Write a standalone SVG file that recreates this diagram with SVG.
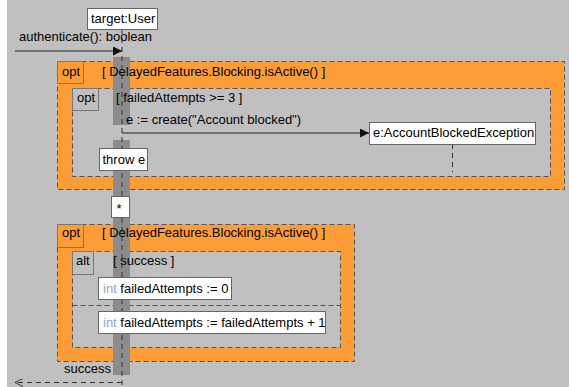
<svg xmlns="http://www.w3.org/2000/svg" width="569" height="387" viewBox="0 0 569 387">
<style>
text{font-family:"Liberation Sans",Arial,Helvetica,sans-serif;font-size:13px;fill:#000}
.frag{stroke:#555;stroke-width:1;stroke-dasharray:5,3}
.orange{fill:#fd9d38}
.grey{fill:#c0c0c0}
.tab{stroke:#777;stroke-width:1}
.box{fill:#fff;stroke:#666;stroke-width:1}
.bar{fill:#8c8c8c}
.life{stroke:#333;stroke-width:1;stroke-dasharray:5,4;fill:none}
.msg{stroke:#222;stroke-width:1;fill:none}
.ret{stroke:#333;stroke-width:1;stroke-dasharray:5,4;fill:none}
.kw{fill:#8aa4cc}
</style>
<defs>
<marker id="filled" viewBox="0 0 10 10" refX="10" refY="5" markerWidth="9" markerHeight="9" markerUnits="userSpaceOnUse" orient="auto">
<path d="M0,0 L10,5 L0,10 Z" fill="#111"/>
</marker>
<marker id="open" viewBox="0 0 10 10" refX="10" refY="5" markerWidth="8" markerHeight="8" markerUnits="userSpaceOnUse" orient="auto">
<path d="M0,0 L10,5 L0,10" fill="none" stroke="#333" stroke-width="1.2"/>
</marker>
</defs>
<rect x="0" y="0" width="569" height="387" fill="#ffffff"/>
<rect x="7" y="0" width="562" height="387" fill="#c0c0c0"/>

<g id="frag-opt1">
<rect class="frag orange" x="57.5" y="61.5" width="507" height="128"/>
<rect class="tab orange" x="57.5" y="61.5" width="26" height="22"/>
<text x="62" y="76">opt</text>
</g>
<g id="frag-opt1-inner">
<rect class="frag grey" x="72.5" y="88.5" width="478" height="88"/>
<rect class="tab grey" x="72.5" y="88.5" width="26" height="22"/>
<text x="77" y="102">opt</text>
</g>
<g id="frag-opt2">
<rect class="frag orange" x="57.5" y="224.5" width="297" height="137"/>
<rect class="tab orange" x="57.5" y="224.5" width="26" height="23"/>
<text x="62" y="237">opt</text>
</g>
<g id="frag-alt">
<rect class="frag grey" x="72.5" y="251.5" width="268" height="96"/>
<rect class="tab grey" x="72.5" y="251.5" width="21" height="23"/>
<text x="76" y="265">alt</text>
<line class="frag" x1="72.5" y1="305.5" x2="340.5" y2="305.5"/>
</g>

<g id="activation">
<rect class="bar" x="113" y="57" width="17" height="68"/>
<rect class="bar" x="113" y="140" width="17" height="235"/>
</g>

<g id="lifeline-user">
<line class="life" x1="122" y1="29" x2="122" y2="387"/>
</g>
<g id="lifeline-exception">
<line class="life" x1="452.5" y1="144" x2="452.5" y2="172"/>
</g>

<g id="guards">
<text x="102" y="76">[ DelayedFeatures.Blocking.isActive() ]</text>
<text x="116" y="102">[ failedAttempts &gt;= 3 ]</text>
<text x="102" y="237">[ DelayedFeatures.Blocking.isActive() ]</text>
<text x="113" y="265">[ success ]</text>
</g>

<g id="connectors">
<line class="msg" x1="15" y1="51" x2="122" y2="51" marker-end="url(#filled)"/>
<text x="19" y="41">authenticate(): boolean</text>
<line class="msg" x1="122" y1="133" x2="369" y2="133" marker-end="url(#filled)"/>
<text x="126" y="124">e := create("Account blocked")</text>
<line class="ret" x1="122" y1="382.5" x2="15" y2="382.5" marker-end="url(#open)"/>
<text x="64" y="373">success</text>
</g>

<g id="user">
<rect class="box" x="87.5" y="8.5" width="70" height="21"/>
<text x="91" y="23">target:User</text>
</g>
<g id="exception">
<rect class="box" x="369.5" y="122.5" width="166" height="22"/>
<text x="373" y="137">e:AccountBlockedException</text>
</g>
<g id="throw">
<rect class="box" x="99.5" y="148.5" width="48" height="22"/>
<text x="102.5" y="164">throw e</text>
</g>
<g id="loop-star">
<rect class="box" x="111.5" y="196.5" width="18" height="21"/>
<text x="116.5" y="213">*</text>
</g>
<g id="assign-reset">
<rect class="box" x="98.5" y="277.5" width="133" height="22"/>
<text x="103" y="293"><tspan class="kw">int</tspan> failedAttempts := 0</text>
</g>
<g id="assign-inc">
<rect class="box" x="98.5" y="311.5" width="227" height="22"/>
<text x="103" y="327"><tspan class="kw">int</tspan> failedAttempts := failedAttempts + 1</text>
</g>
</svg>
